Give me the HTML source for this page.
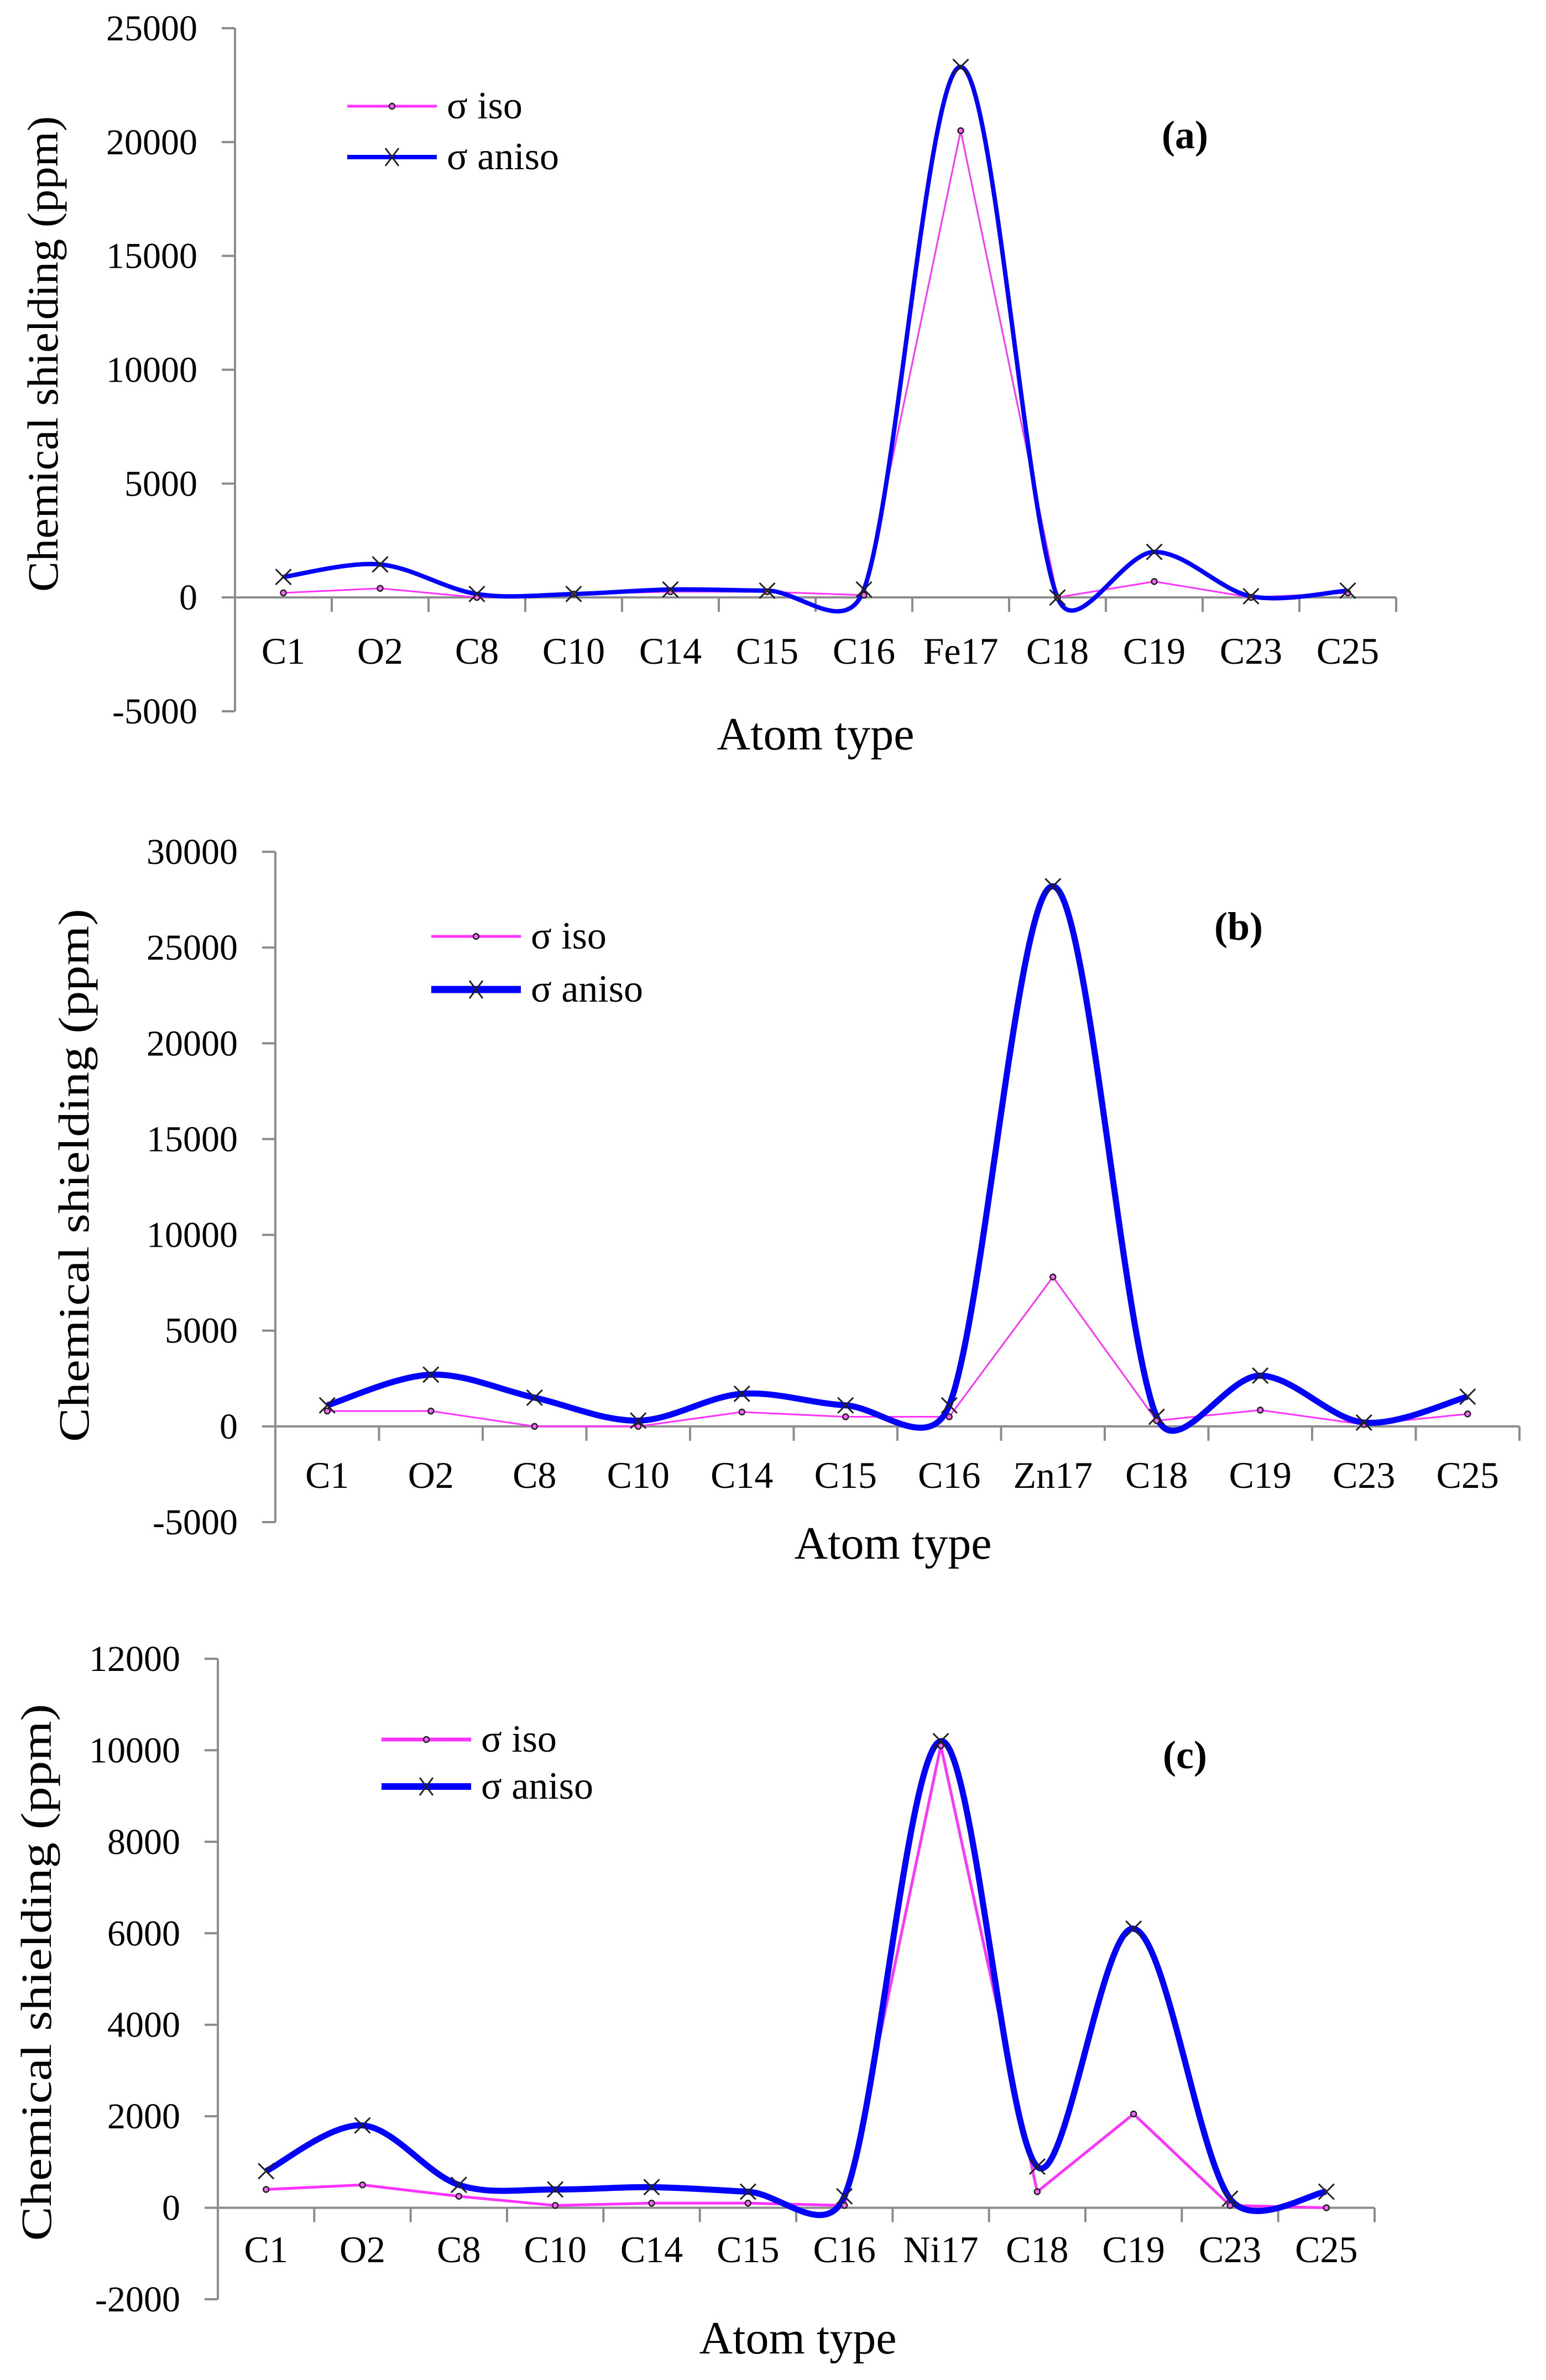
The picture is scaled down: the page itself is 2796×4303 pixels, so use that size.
<!DOCTYPE html>
<html><head><meta charset="utf-8"><title>Chemical shielding charts</title>
<style>html,body{margin:0;padding:0;background:#fff}svg{display:block}text{font-family:"Liberation Serif",serif;fill:#000}</style>
</head><body>
<svg id="root" xmlns="http://www.w3.org/2000/svg" width="2796" height="4303" viewBox="0 0 2796 4303">
<rect width="2796" height="4303" fill="#fff"/>
</svg>
<script>
const categoriesA = ["C1","O2","C8","C10","C14","C15","C16","Fe17","C18","C19","C23","C25"];
const isoA   = [200,400,0,150,250,250,100,20500,0,700,0,200];
const anisoA = [900,1450,150,150,350,300,350,23300,0,2000,50,300];
const ticksA = [25000,20000,15000,10000,5000,0,-5000];

const categoriesB = ["C1","O2","C8","C10","C14","C15","C16","Zn17","C18","C19","C23","C25"];
const isoB   = [800,800,0,0,750,500,500,7800,300,850,100,650];
const anisoB = [1100,2700,1500,300,1700,1100,1100,28200,500,2650,200,1550];
const ticksB = [30000,25000,20000,15000,10000,5000,0,-5000];

const categoriesC = ["C1","O2","C8","C10","C14","C15","C16","Ni17","C18","C19","C23","C25"];
const isoC   = [400,500,250,50,100,100,50,10100,350,2050,50,0];
const anisoC = [800,1800,500,400,450,350,250,10200,900,6100,200,350];
const ticksC = [12000,10000,8000,6000,4000,2000,0,-2000];

const NS = "http://www.w3.org/2000/svg";
const root = document.getElementById('root');
function mk(tag, attrs, parent){const e=document.createElementNS(NS,tag);for(const k in attrs)e.setAttribute(k,attrs[k]);(parent||root).appendChild(e);return e;}
function dist(a,b){return Math.hypot(a[0]-b[0],a[1]-b[1]);}

function drawChart(cfg, cats, iso, aniso, ticks){
  const g = mk('g',{});
  
  
  const yMax = ticks[0], yMin = ticks[ticks.length-1];
  const yS = v => cfg.yTop + (yMax - v) / (yMax - yMin) * (cfg.yBot - cfg.yTop);
  const step = (cfg.xEnd - cfg.x0) / cats.length;
  const xS = i => cfg.x0 + step * (i + 0.5);
  const y0 = yS(0);
  const ya = mk('line',{x1:cfg.x0,y1:cfg.yTop,x2:cfg.x0,y2:cfg.yBot,stroke:'#8c8c8c','stroke-width':4},g);
  
  
  ticks.forEach(t=>{
    const y=yS(t);
    const tk=mk('line',{x1:cfg.x0-24,y1:y,x2:cfg.x0,y2:y,stroke:'#8c8c8c','stroke-width':4},g);
    
    
    const tl=mk('text',{x:cfg.x0-68,y:y+22,'text-anchor':'end','font-size':66},g);
    tl.textContent=String(t);
    
    
  });
  const xa=mk('line',{x1:cfg.x0,y1:y0,x2:cfg.xEnd,y2:y0,stroke:'#8c8c8c','stroke-width':4},g);
  
  
  for(let i=1;i<=cats.length;i++){
    const x=cfg.x0+step*i;
    const tk=mk('line',{x1:x,y1:y0,x2:x,y2:y0+26,stroke:'#8c8c8c','stroke-width':4},g);
    
    
  }
  cats.forEach((c,i)=>{
    const tl=mk('text',{x:xS(i),y:cfg.labY,'text-anchor':'middle','font-size':68},g);
    tl.textContent=c;
    
    
  });
  const isoPts = iso.map((v,i)=>[xS(i),yS(v)]);
  const pl=mk('polyline',{points:isoPts.map(p=>p.join(',')).join(' '),fill:'none',stroke:'#ff33ff','stroke-width':cfg.isoW,'stroke-linejoin':'round'},g);
  
  
  const P = aniso.map((v,i)=>[xS(i),yS(v)]);
  let d='M'+P[0][0]+','+P[0][1];
  for(let i=0;i<P.length-1;i++){
    const p0=P[Math.max(i-1,0)],p1=P[i],p2=P[i+1],p3=P[Math.min(i+2,P.length-1)];
    const d12=dist(p1,p2);
    const a1=dist(p0,p1), a3=dist(p2,p3);
    const k1=(1/6)*Math.min(1,Math.sqrt(2*d12/((a1||d12)+d12)));
    const k2=(1/6)*Math.min(1,Math.sqrt(2*d12/((a3||d12)+d12)));
    const c1=[p1[0]+(p2[0]-p0[0])*k1,p1[1]+(p2[1]-p0[1])*k1];
    const c2=[p2[0]-(p3[0]-p1[0])*k2,p2[1]-(p3[1]-p1[1])*k2];
    d+=' C'+c1.join(',')+' '+c2.join(',')+' '+p2.join(',');
  }
  const ap=mk('path',{d:d,fill:'none',stroke:'#0000ff','stroke-width':cfg.anisoW,'stroke-linejoin':'round'},g);
  
  
  isoPts.forEach(p=>{
    const c=mk('circle',{cx:p[0],cy:p[1],r:5,fill:'#ff66ff',stroke:'#222','stroke-width':2.5},g);
    
    
  });
  P.forEach(p=>{
    const s=14;
    const x=mk('path',{d:`M${p[0]-s},${p[1]-s}L${p[0]+s},${p[1]+s}M${p[0]+s},${p[1]-s}L${p[0]-s},${p[1]+s}`,stroke:'#222','stroke-width':3,fill:'none'},g);
    
    
  });
  const lg=mk('g',{},g);
  
  
  const lx=cfg.legX, mx=lx+81;
  mk('line',{x1:lx,y1:cfg.legY1,x2:lx+162,y2:cfg.legY1,stroke:'#ff33ff','stroke-width':cfg.isoLegW},lg);
  mk('circle',{cx:mx,cy:cfg.legY1,r:5,fill:'#ff66ff',stroke:'#222','stroke-width':2.5},lg);
  const t1=mk('text',{x:lx+180,y:cfg.legY1+22,'font-size':70},lg);
  t1.textContent='σ iso';
  
  
  mk('line',{x1:lx,y1:cfg.legY2,x2:lx+162,y2:cfg.legY2,stroke:'#0000ff','stroke-width':cfg.anisoLegW},lg);
  mk('path',{d:`M${mx-12},${cfg.legY2-16}L${mx+12},${cfg.legY2+16}M${mx+12},${cfg.legY2-16}L${mx-12},${cfg.legY2+16}`,stroke:'#222','stroke-width':3},lg);
  const t2=mk('text',{x:lx+180,y:cfg.legY2+22,'font-size':70},lg);
  t2.textContent='σ aniso';
  
  
  const pn=mk('text',{x:cfg.panX,y:cfg.panY,'text-anchor':'middle','font-size':72,'font-weight':'bold'},g);
  pn.textContent=cfg.panel;
  
  
  const xt=mk('text',{x:cfg.xtX,y:cfg.xtY,'text-anchor':'middle','font-size':84},g);
  xt.textContent='Atom type';
  
  
  const yt=mk('text',{x:0,y:0,'text-anchor':'middle','font-size':78,transform:`translate(${cfg.ytX},${cfg.ytY}) rotate(-90)`,textLength:cfg.ytLen,lengthAdjust:'spacingAndGlyphs'},g);
  yt.textContent='Chemical shielding (ppm)';
  
  
}

drawChart({name:'chart-a-fe17',x0:425,xEnd:2525,yTop:51,yBot:1286,labY:1200,isoW:3,anisoW:8,isoLegW:5,anisoLegW:8,
  legX:628,legY1:192,legY2:284,panX:2143,panY:268,panel:'(a)',xtX:1475,xtY:1355,ytX:104,ytY:640,ytLen:860},
  categoriesA,isoA,anisoA,ticksA);
drawChart({name:'chart-b-zn17',x0:498,xEnd:2748,yTop:1540,yBot:2752,labY:2690,isoW:3,anisoW:11,isoLegW:5,anisoLegW:13,
  legX:780,legY1:1693,legY2:1789,panX:2240,panY:1699,panel:'(b)',xtX:1615,xtY:2818,ytX:160,ytY:2125,ytLen:964},
  categoriesB,isoB,anisoB,ticksB);
drawChart({name:'chart-c-ni17',x0:394,xEnd:2486,yTop:2999,yBot:4157,labY:4090,isoW:5,anisoW:11,isoLegW:7,anisoLegW:12,
  legX:690,legY1:3145,legY2:3230,panX:2143,panY:3197,panel:'(c)',xtX:1443,xtY:4255,ytX:92,ytY:3566,ytLen:971},
  categoriesC,isoC,anisoC,ticksC);
</script>
</body></html>
